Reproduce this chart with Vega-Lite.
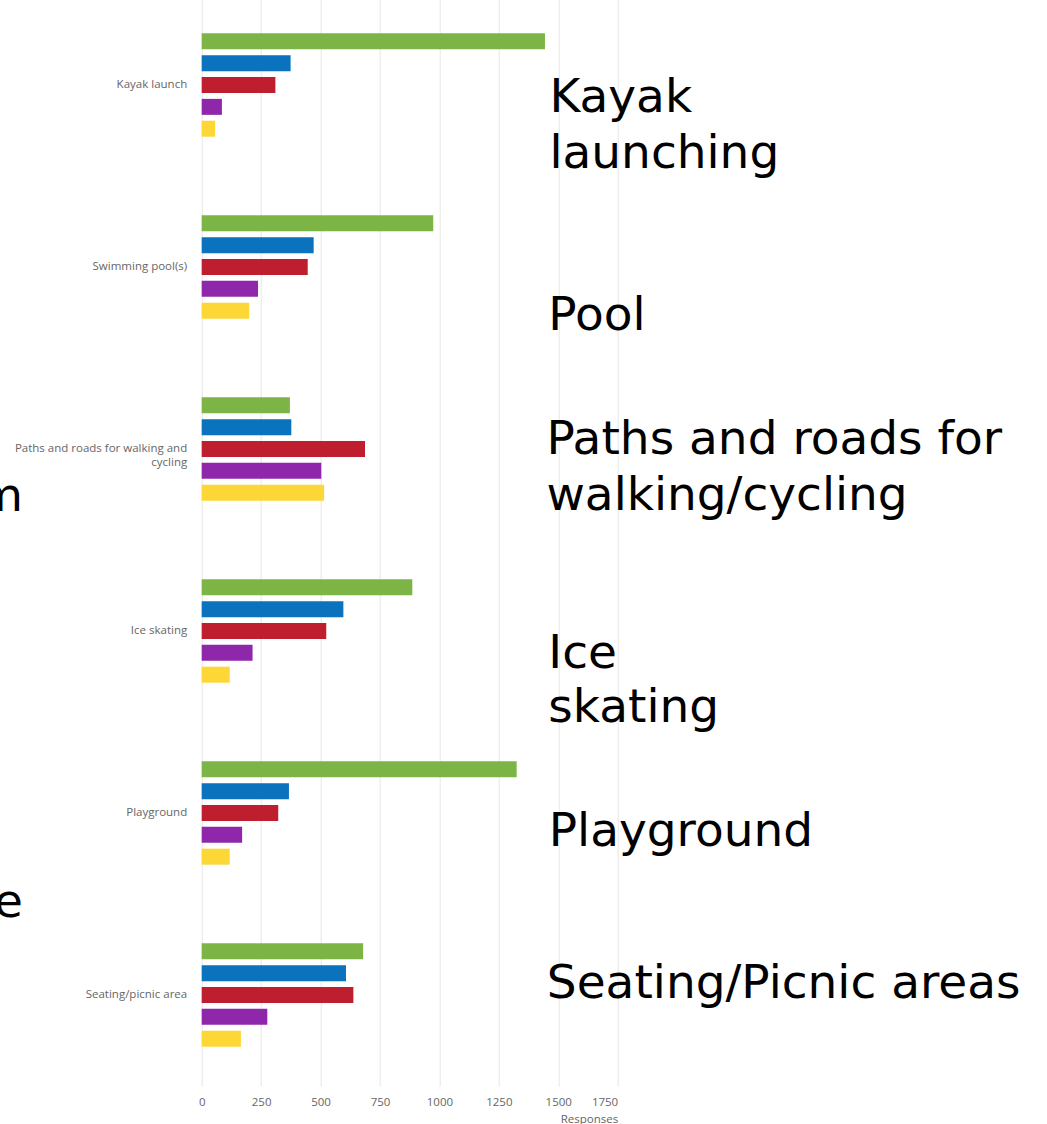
{
  "$schema": "https://vega.github.io/schema/vega-lite/v6.json",
  "width": 416,
  "height": 1092,
  "autosize": {"type": "none"},
  "padding": {"left": 201.7, "top": -6, "right": 429.3, "bottom": 38},
  "background": "white",
  "config": {"view": {"stroke": null}, "font": "Open Sans"},
  "datasets": {
    "bars": [
      {"facility": "Kayak launch", "series": "Response 1", "responses": 1444},
      {"facility": "Kayak launch", "series": "Response 2", "responses": 374},
      {"facility": "Kayak launch", "series": "Response 3", "responses": 310},
      {"facility": "Kayak launch", "series": "Response 4", "responses": 85},
      {"facility": "Kayak launch", "series": "Response 5", "responses": 56},
      {"facility": "Swimming pool(s)", "series": "Response 1", "responses": 974},
      {"facility": "Swimming pool(s)", "series": "Response 2", "responses": 471},
      {"facility": "Swimming pool(s)", "series": "Response 3", "responses": 446},
      {"facility": "Swimming pool(s)", "series": "Response 4", "responses": 237},
      {"facility": "Swimming pool(s)", "series": "Response 5", "responses": 200},
      {"facility": "Paths and roads for walking and cycling", "series": "Response 1", "responses": 371},
      {"facility": "Paths and roads for walking and cycling", "series": "Response 2", "responses": 377},
      {"facility": "Paths and roads for walking and cycling", "series": "Response 3", "responses": 687},
      {"facility": "Paths and roads for walking and cycling", "series": "Response 4", "responses": 503},
      {"facility": "Paths and roads for walking and cycling", "series": "Response 5", "responses": 515},
      {"facility": "Ice skating", "series": "Response 1", "responses": 886},
      {"facility": "Ice skating", "series": "Response 2", "responses": 596},
      {"facility": "Ice skating", "series": "Response 3", "responses": 524},
      {"facility": "Ice skating", "series": "Response 4", "responses": 214},
      {"facility": "Ice skating", "series": "Response 5", "responses": 118},
      {"facility": "Playground", "series": "Response 1", "responses": 1325},
      {"facility": "Playground", "series": "Response 2", "responses": 367},
      {"facility": "Playground", "series": "Response 3", "responses": 322},
      {"facility": "Playground", "series": "Response 4", "responses": 170},
      {"facility": "Playground", "series": "Response 5", "responses": 118},
      {"facility": "Seating/picnic area", "series": "Response 1", "responses": 679},
      {"facility": "Seating/picnic area", "series": "Response 2", "responses": 607},
      {"facility": "Seating/picnic area", "series": "Response 3", "responses": 638},
      {"facility": "Seating/picnic area", "series": "Response 4", "responses": 276},
      {"facility": "Seating/picnic area", "series": "Response 5", "responses": 165}
    ],
    "notes": [
      {"text": "Kayak", "x": 1463, "pos": 0.647},
      {"text": "launching", "x": 1463, "pos": 0.956},
      {"text": "Pool", "x": 1458, "pos": 1.846},
      {"text": "Paths and roads for", "x": 1450, "pos": 2.527},
      {"text": "walking/cycling", "x": 1450, "pos": 2.835},
      {"text": "Ice", "x": 1458, "pos": 3.703},
      {"text": "skating", "x": 1458, "pos": 4.0},
      {"text": "Playground", "x": 1460, "pos": 4.681},
      {"text": "Seating/Picnic areas", "x": 1452, "pos": 5.516}
    ],
    "fragments": [
      {"text": "m", "x": -752, "pos": 2.84},
      {"text": "e", "x": -752, "pos": 5.071}
    ]
  },
  "layer": [
    {
      "data": {"name": "bars"},
      "mark": {"type": "bar"},
      "encoding": {
        "y": {
          "field": "facility",
          "type": "nominal",
          "sort": ["Kayak launch", "Swimming pool(s)", "Paths and roads for walking and cycling", "Ice skating", "Playground", "Seating/picnic area"],
          "scale": {"paddingInner": 0.432, "paddingOuter": 0.216},
          "axis": {
            "title": null,
            "domain": false,
            "ticks": false,
            "grid": false,
            "labelPadding": 15,
            "labelFont": "Open Sans",
            "labelFontSize": 11.5,
            "labelColor": "#666666",
            "labelLimit": 300,
            "labelLineHeight": 14,
            "labelExpr": "datum.label == 'Paths and roads for walking and cycling' ? ['Paths and roads for walking and', 'cycling'] : datum.label"
          }
        },
        "yOffset": {
          "field": "series",
          "type": "nominal",
          "sort": ["Response 1", "Response 2", "Response 3", "Response 4", "Response 5"],
          "scale": {"paddingInner": 0.268, "paddingOuter": 0}
        },
        "x": {
          "field": "responses",
          "type": "quantitative",
          "scale": {"domain": [0, 1750], "nice": false},
          "axis": {
            "title": "Responses",
            "titleAnchor": "end",
            "titleFont": "Open Sans",
            "titleFontSize": 11.5,
            "titleFontWeight": "normal",
            "titleColor": "#666666",
            "titlePadding": 6,
            "values": [0, 250, 500, 750, 1000, 1250, 1500, 1750],
            "format": "d",
            "domain": false,
            "ticks": false,
            "grid": true,
            "gridColor": "#e6e6e6",
            "gridWidth": 1,
            "labelPadding": 10,
            "labelFont": "Open Sans",
            "labelFontSize": 11.5,
            "labelColor": "#666666",
            "labelAlign": {"condition": {"test": "datum.value == 1750", "value": "right"}, "value": "center"}
          }
        },
        "color": {
          "field": "series",
          "type": "nominal",
          "scale": {
            "domain": ["Response 1", "Response 2", "Response 3", "Response 4", "Response 5"],
            "range": ["#7cb445", "#0b72bd", "#be1e2d", "#8e27a9", "#fdd736"]
          },
          "legend": null
        }
      }
    },
    {
      "data": {"name": "notes"},
      "mark": {"type": "text", "align": "left", "baseline": "alphabetic", "font": "DejaVu Sans", "fontSize": 47, "color": "#000000"},
      "encoding": {
        "x": {"field": "x", "type": "quantitative"},
        "y": {"field": "pos", "type": "quantitative", "scale": {"domain": [0, 6], "reverse": true, "nice": false, "zero": false}, "axis": null},
        "text": {"field": "text"}
      }
    },
    {
      "data": {"name": "fragments"},
      "mark": {"type": "text", "align": "right", "baseline": "alphabetic", "font": "DejaVu Sans", "fontSize": 47, "color": "#000000"},
      "encoding": {
        "x": {"field": "x", "type": "quantitative"},
        "y": {"field": "pos", "type": "quantitative", "scale": {"domain": [0, 6], "reverse": true, "nice": false, "zero": false}, "axis": null},
        "text": {"field": "text"}
      }
    }
  ],
  "resolve": {"scale": {"y": "independent"}}
}
